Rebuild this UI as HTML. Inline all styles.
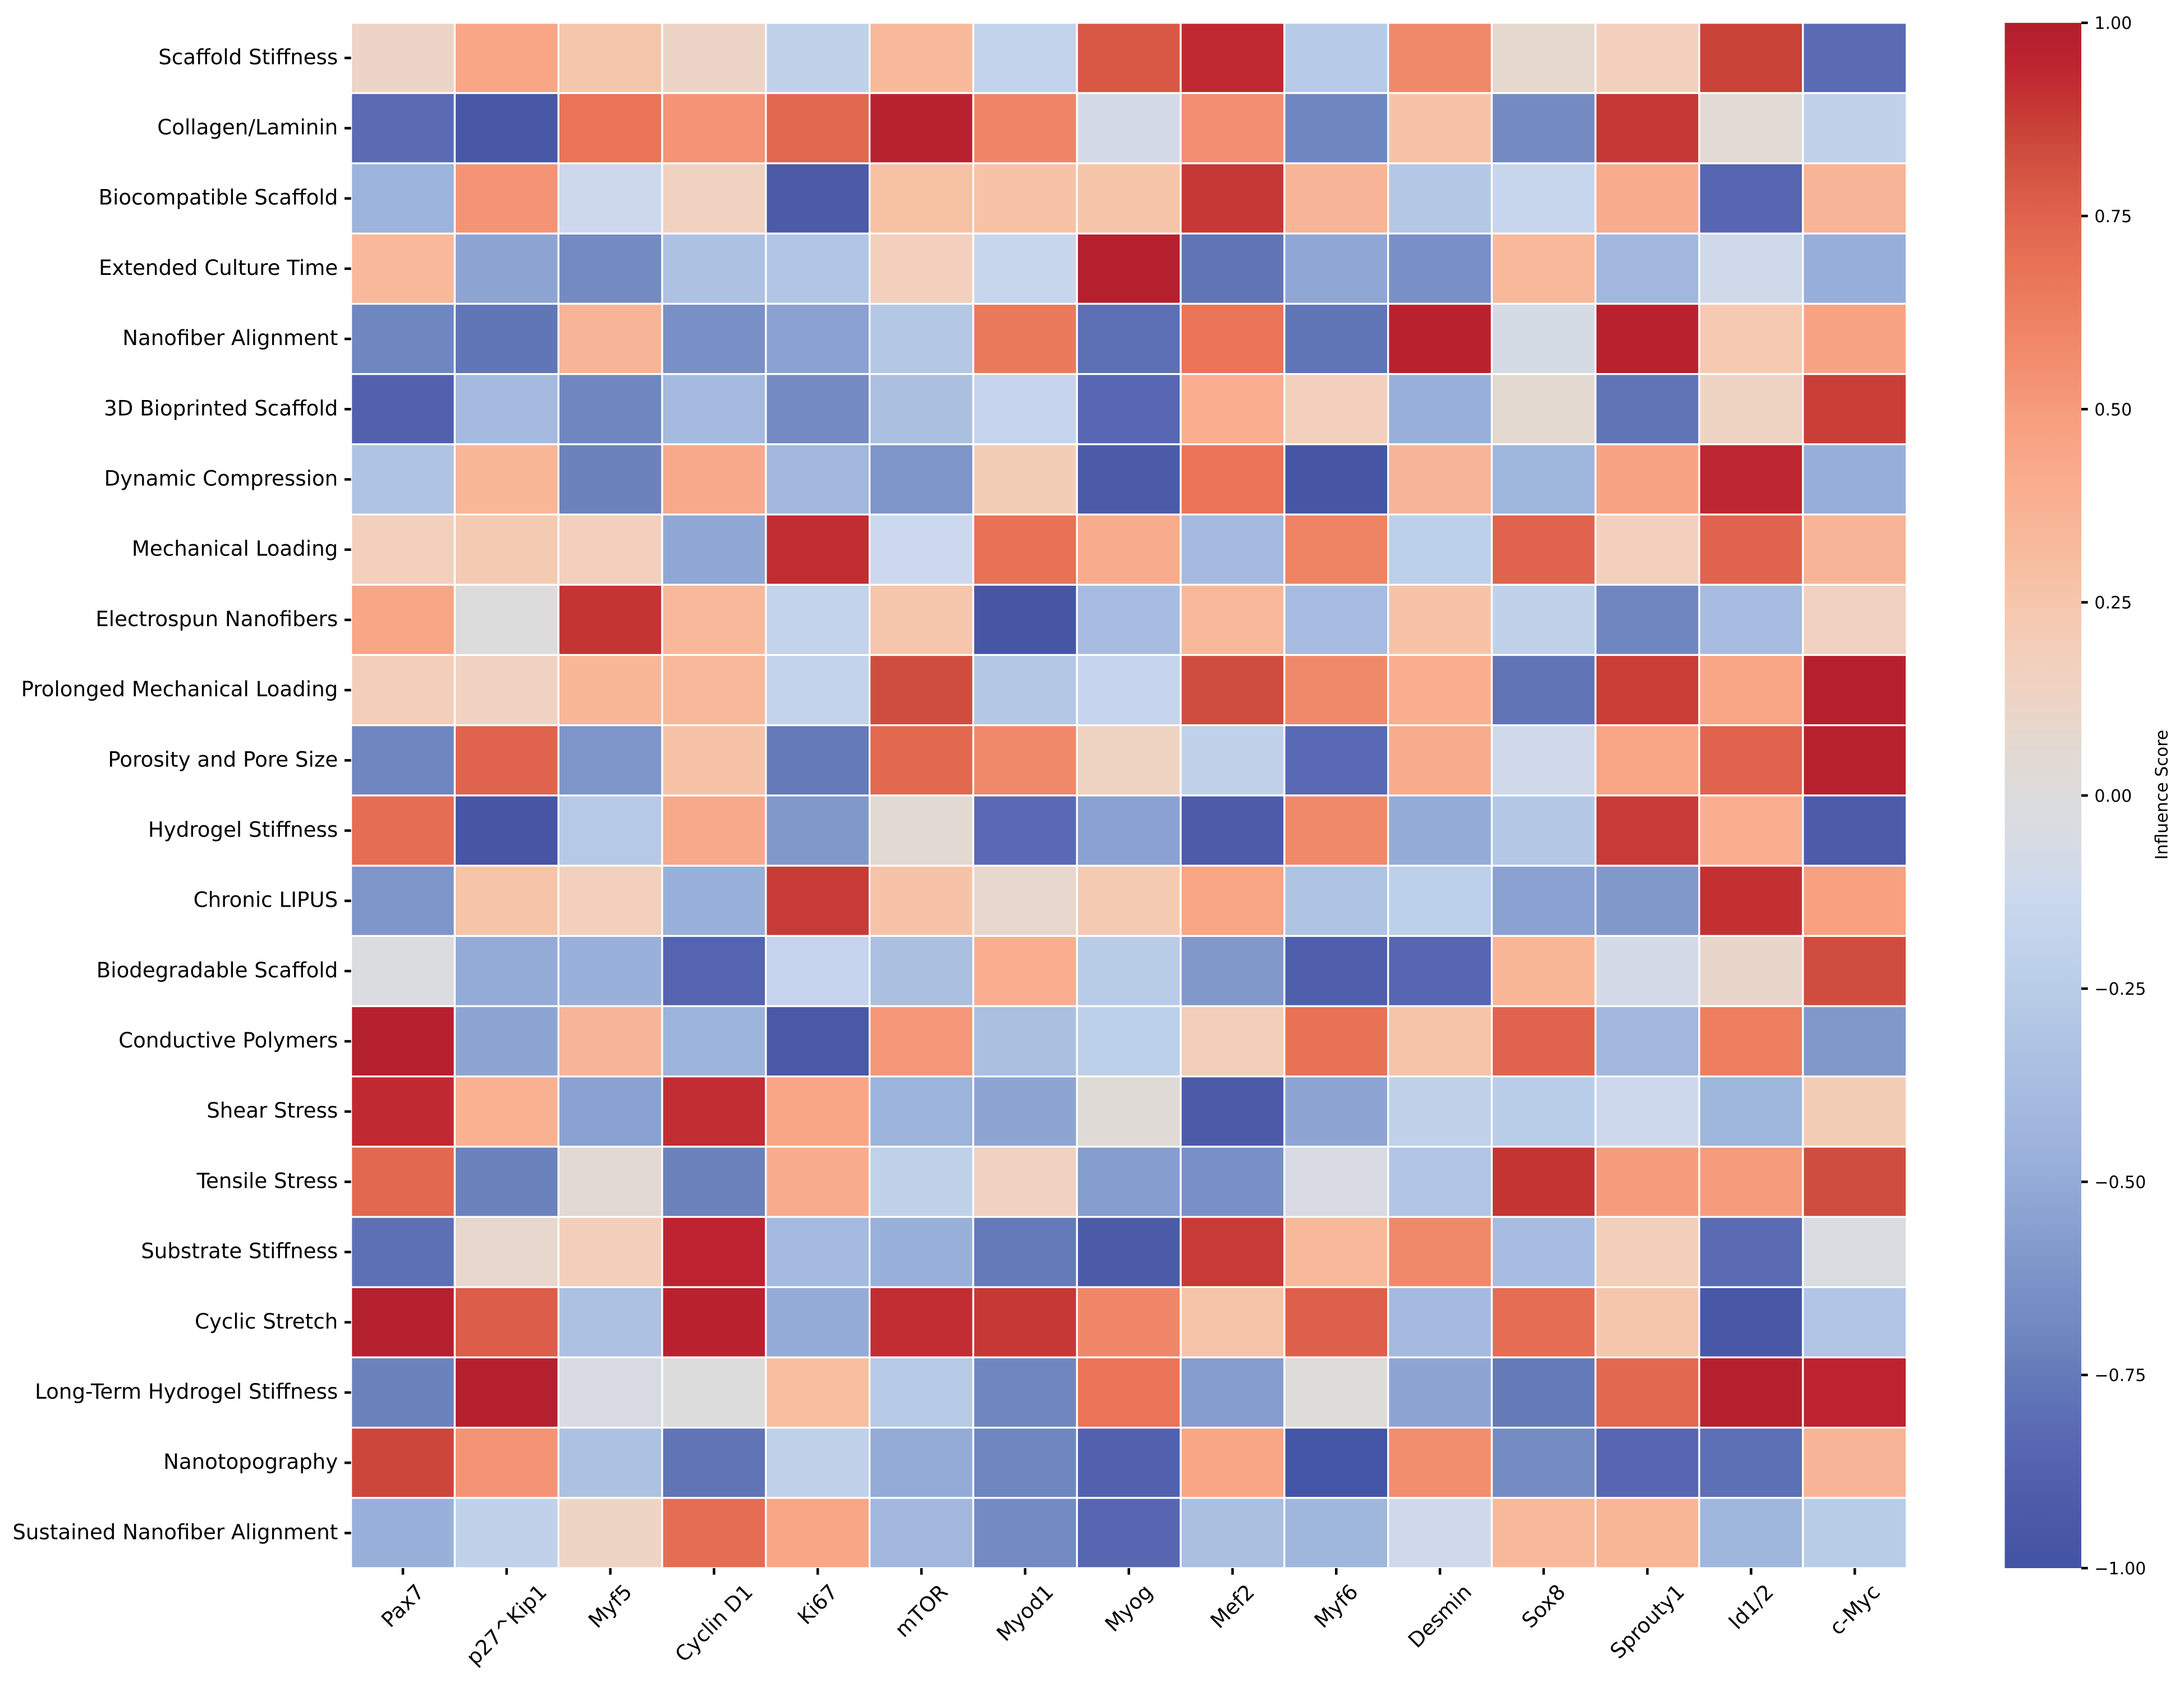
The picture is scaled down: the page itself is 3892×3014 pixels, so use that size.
<!DOCTYPE html>
<html lang="en">
<head>
<meta charset="utf-8">
<title>Influence Score Heatmap</title>
<style>
  html, body { margin: 0; padding: 0; background: #ffffff; }
  #chart { display: block; }
  text { font-family: "DejaVu Sans", "Liberation Sans", sans-serif; fill: #000000; }
</style>
</head>
<body>
<svg id="chart" xmlns="http://www.w3.org/2000/svg" width="3892" height="3014" viewBox="0 0 3892 3014">
  <rect x="0" y="0" width="3892" height="3014" fill="#ffffff"></rect>
  <defs>
    <linearGradient id="colorbar-gradient" x1="0" y1="0" x2="0" y2="1"></linearGradient>
  </defs>
  <g id="heatmap-cells"></g>
  <g id="y-axis"></g>
  <g id="x-axis"></g>
  <g id="colorbar"></g>
</svg>
<script>
const rowLabels = ["Scaffold Stiffness","Collagen/Laminin","Biocompatible Scaffold","Extended Culture Time","Nanofiber Alignment","3D Bioprinted Scaffold","Dynamic Compression","Mechanical Loading","Electrospun Nanofibers","Prolonged Mechanical Loading","Porosity and Pore Size","Hydrogel Stiffness","Chronic LIPUS","Biodegradable Scaffold","Conductive Polymers","Shear Stress","Tensile Stress","Substrate Stiffness","Cyclic Stretch","Long-Term Hydrogel Stiffness","Nanotopography","Sustained Nanofiber Alignment"];
const columnLabels = ["Pax7","p27^Kip1","Myf5","Cyclin D1","Ki67","mTOR","Myod1","Myog","Mef2","Myf6","Desmin","Sox8","Sprouty1","Id1/2","c-Myc"];
const influenceScores = [
  [0.12,0.45,0.25,0.12,-0.20,0.33,-0.18,0.79,0.93,-0.27,0.58,0.07,0.17,0.86,-0.82],
  [-0.82,-0.95,0.68,0.53,0.73,0.97,0.60,-0.08,0.55,-0.70,0.27,-0.68,0.89,0.04,-0.20],
  [-0.45,0.53,-0.12,0.15,-0.93,0.28,0.27,0.26,0.89,0.36,-0.28,-0.15,0.41,-0.85,0.36],
  [0.33,-0.53,-0.68,-0.33,-0.30,0.17,-0.15,0.98,-0.78,-0.52,-0.65,0.33,-0.42,-0.10,-0.48],
  [-0.70,-0.77,0.36,-0.65,-0.55,-0.28,0.65,-0.80,0.68,-0.77,0.96,-0.07,0.96,0.23,0.46],
  [-0.88,-0.40,-0.70,-0.40,-0.68,-0.35,-0.17,-0.84,0.40,0.17,-0.47,0.06,-0.78,0.14,0.87],
  [-0.32,0.35,-0.72,0.43,-0.42,-0.62,0.20,-0.93,0.68,-0.97,0.36,-0.43,0.46,0.94,-0.48],
  [0.17,0.22,0.17,-0.52,0.92,-0.13,0.69,0.41,-0.40,0.61,-0.22,0.75,0.17,0.75,0.36],
  [0.45,0.00,0.90,0.33,-0.18,0.25,-0.97,-0.38,0.33,-0.38,0.27,-0.20,-0.70,-0.38,0.16],
  [0.19,0.15,0.35,0.33,-0.18,0.83,-0.28,-0.17,0.83,0.58,0.40,-0.78,0.87,0.45,0.98],
  [-0.70,0.75,-0.62,0.27,-0.75,0.73,0.58,0.14,-0.20,-0.83,0.41,-0.10,0.45,0.75,0.97],
  [0.71,-0.97,-0.27,0.43,-0.60,0.05,-0.83,-0.55,-0.92,0.58,-0.50,-0.28,0.88,0.40,-0.92],
  [-0.62,0.26,0.17,-0.47,0.88,0.27,0.09,0.22,0.45,-0.32,-0.22,-0.55,-0.60,0.91,0.48],
  [-0.02,-0.50,-0.47,-0.86,-0.17,-0.35,0.40,-0.25,-0.60,-0.90,-0.85,0.35,-0.08,0.10,0.83],
  [0.98,-0.53,0.36,-0.45,-0.94,0.51,-0.35,-0.22,0.19,0.69,0.26,0.75,-0.42,0.63,-0.60],
  [0.93,0.38,-0.55,0.92,0.45,-0.45,-0.53,0.03,-0.93,-0.53,-0.20,-0.24,-0.12,-0.43,0.20],
  [0.73,-0.72,0.05,-0.72,0.41,-0.20,0.15,-0.57,-0.65,-0.05,-0.30,0.90,0.50,0.50,0.83],
  [-0.80,0.09,0.18,0.95,-0.40,-0.47,-0.75,-0.93,0.88,0.33,0.58,-0.38,0.18,-0.82,-0.03],
  [0.98,0.77,-0.33,0.96,-0.50,0.92,0.89,0.59,0.26,0.76,-0.40,0.71,0.25,-0.95,-0.30],
  [-0.72,0.98,-0.04,0.00,0.30,-0.27,-0.70,0.68,-0.58,0.02,-0.53,-0.75,0.73,0.98,0.95],
  [0.85,0.53,-0.33,-0.78,-0.20,-0.50,-0.70,-0.88,0.45,-0.98,0.56,-0.67,-0.85,-0.80,0.36],
  [-0.47,-0.20,0.13,0.71,0.45,-0.42,-0.68,-0.85,-0.35,-0.43,-0.10,0.33,0.35,-0.43,-0.25]
];
const colorbarTicks = [1,0.75,0.5,0.25,0,-0.25,-0.5,-0.75,-1];
const colorbarTitle = "Influence Score";
const colormapValues = [-1,-0.99,-0.917,-0.836,-0.755,-0.69,-0.593,-0.49,-0.406,-0.325,-0.228,-0.13,-0.067,0,0.07,0.135,0.233,0.297,0.394,0.49,0.514,0.613,0.677,0.75,0.84,0.90,0.95,1];
const colormapColors = ["#4353a3","#4454a4","#4c5ca9","#5868b3","#6379b8","#7189c1","#8299cc","#96add9","#a3b9df","#aec2e2","#bccfe9","#cbd8ee","#d6dbe5","#dcdcdc","#e4d8cf","#efd4c4","#f6c9b0","#f7bea0","#f9af90","#f79f7f","#f59778","#ee8263","#e97558","#e0634d","#cd4a3c","#c43433","#bd2230","#b01f2c"];

const SVG_NS = "http://www.w3.org/2000/svg";
const plotLeft = 625.6, plotRight = 3397.7, plotTop = 40.7, plotBottom = 2795;
const barLeft = 3572.6, barRight = 3709;
const xOf = v => plotLeft + (plotRight - plotLeft) * v / columnLabels.length;
const yOf = v => plotTop + (plotBottom - plotTop) * v / rowLabels.length;
const barY = v => plotTop + (plotBottom - plotTop) * (1 - v) / 2;

function hexToRgb(h) {
  return [parseInt(h.slice(1,3),16), parseInt(h.slice(3,5),16), parseInt(h.slice(5,7),16)];
}
function colorFor(v) {
  const c = Math.max(-1, Math.min(1, v));
  for (let i = 0; i < colormapValues.length - 1; i++) {
    if (c <= colormapValues[i + 1]) {
      const t = (c - colormapValues[i]) / (colormapValues[i + 1] - colormapValues[i]);
      const a = hexToRgb(colormapColors[i]), b = hexToRgb(colormapColors[i + 1]);
      return "rgb(" + a.map((x, k) => Math.round(x + (b[k] - x) * t)).join(",") + ")";
    }
  }
  return colormapColors[colormapColors.length - 1];
}
function make(tag, attrs, parent, content) {
  const el = document.createElementNS(SVG_NS, tag);
  for (const k in attrs) el.setAttribute(k, attrs[k]);
  if (content !== undefined) el.textContent = content;
  parent.appendChild(el);
  return el;
}
function slug(s) {
  return s.toLowerCase().replace(/[^a-z0-9]+/g, "-").replace(/^-|-$/g, "");
}

const cellsGroup = document.getElementById("heatmap-cells");
const yAxis = document.getElementById("y-axis");
const xAxis = document.getElementById("x-axis");
const colorbar = document.getElementById("colorbar");
const TICK_LEN = 11.7, TICK_W = 4.5, PAD = 11.7;
const LABEL_SIZE = 37.15, BAR_SIZE = 30;

influenceScores.forEach((row, r) => {
  row.forEach((value, c) => {
    const cell = make("rect", {x: xOf(c), y: yOf(r), width: xOf(c + 1) - xOf(c), height: yOf(r + 1) - yOf(r), fill: colorFor(value), stroke: "#ffffff", "stroke-width": 3.3}, cellsGroup);
    
    
  });
});

rowLabels.forEach((label, r) => {
  const cy = yOf(r + 0.5);
  const tick = make("line", {x1: plotLeft - TICK_LEN, x2: plotLeft, y1: cy, y2: cy, stroke: "#000", "stroke-width": TICK_W}, yAxis);
  
  
  const text = make("text", {x: plotLeft - TICK_LEN - PAD, y: cy + 11, "text-anchor": "end", "font-size": LABEL_SIZE}, yAxis, label);
  
  
});

columnLabels.forEach((label, c) => {
  const cx = xOf(c + 0.5);
  const tick = make("line", {x1: cx, x2: cx, y1: plotBottom, y2: plotBottom + TICK_LEN, stroke: "#000", "stroke-width": TICK_W}, xAxis);
  
  
  const text = make("text", {x: cx, y: 0, "text-anchor": "middle", "dominant-baseline": "central", "font-size": LABEL_SIZE}, xAxis, label);
  
  
  const w = text.getComputedTextLength();
  const h = LABEL_SIZE * 0.95;
  const cy = plotBottom + TICK_LEN + PAD + (w + h) * Math.SQRT1_2 / 2;
  text.setAttribute("y", cy);
  text.setAttribute("transform", "rotate(-45 " + cx + " " + cy + ")");
});

const gradient = document.getElementById("colorbar-gradient");
for (let i = colormapValues.length - 1; i >= 0; i--) {
  make("stop", {offset: (1 - colormapValues[i]) / 2, "stop-color": colormapColors[i]}, gradient);
}
const barRect = make("rect", {x: barLeft, y: plotTop, width: barRight - barLeft, height: plotBottom - plotTop, fill: "url(#colorbar-gradient)"}, colorbar);


colorbarTicks.forEach(v => {
  const y = barY(v);
  const tick = make("line", {x1: barRight, x2: barRight + TICK_LEN, y1: y, y2: y, stroke: "#000", "stroke-width": TICK_W}, colorbar);
  
  
  const str = (v < 0 ? "\u2212" : "") + Math.abs(v).toFixed(2);
  const text = make("text", {x: barRight + TICK_LEN + PAD, y: y + 11, "font-size": BAR_SIZE}, colorbar, str);
  
  
});
const barTitle = make("text", {x: 0, y: 0, "text-anchor": "middle", "font-size": BAR_SIZE, transform: "translate(3862.5 1416.5) rotate(-90)"}, colorbar, colorbarTitle);


</script>
</body>
</html>
